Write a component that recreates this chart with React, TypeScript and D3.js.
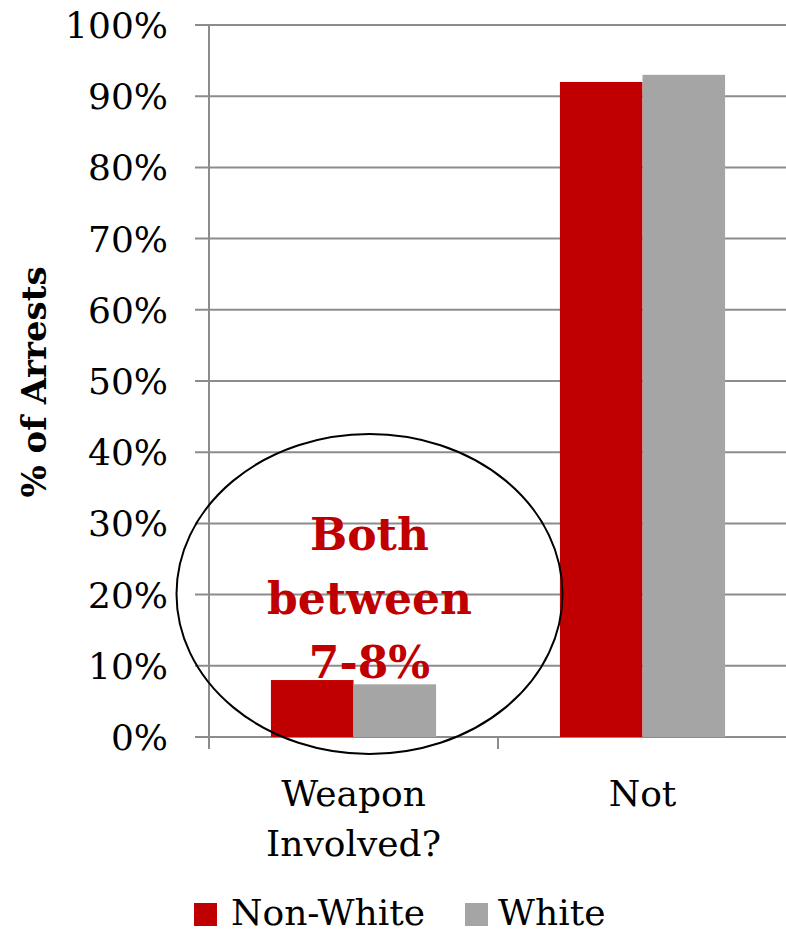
import React from "react";
import * as d3 from "d3";

// Share of arrests by whether a weapon was involved, split by race
const categories = ["Weapon Involved?", "Not"];
const categoryLines = [["Weapon", "Involved?"], ["Not"]];
const seriesNames = ["Non-White", "White"];
const seriesColors = ["#C00000", "#A5A5A5"];
const nonWhite = [0.08, 0.92];
const white = [0.074, 0.93];
const yTicks = [0, 0.1, 0.2, 0.3, 0.4, 0.5, 0.6, 0.7, 0.8, 0.9, 1.0];
const noteLines = ["Both", "between", "7-8%"];

const W = 786;
const H = 932;
const left = 209;
const right = 787;
const top = 25;
const bottom = 737;

export default function App() {
  const y = d3.scaleLinear().domain([0, 1]).range([bottom, top]);
  const x = d3.scaleBand<string>().domain(categories).range([left, right]).padding(0);
  const xs = d3
    .scaleBand<string>()
    .domain(seriesNames)
    .range([0, x.bandwidth()])
    .paddingInner(0)
    .paddingOuter(0.75);
  const fmt = d3.format(".0%");
  const values = [nonWhite, white];
  const serif = "'DejaVu Serif', serif";
  const gridColor = "#8C8C8C";

  const firstCenter = (x(categories[0]) ?? 0) + x.bandwidth() / 2;

  return (
    <svg
      width={W}
      height={H}
      style={{ position: "absolute", left: 0, top: 0, background: "#fff" }}
      fontFamily={serif}
    >
      {/* gridlines and y tick labels */}
      {yTicks.map((t) => (
        <g key={t}>
          <line x1={195} x2={W} y1={y(t)} y2={y(t)} stroke={gridColor} strokeWidth={2} />
          <text x={168} y={y(t) + 13} textAnchor="end" fontSize={36} fill="#000">
            {fmt(t)}
          </text>
        </g>
      ))}
      {/* y axis */}
      <line x1={left} x2={left} y1={top} y2={bottom + 12} stroke={gridColor} strokeWidth={2} />
      {/* category ticks */}
      {[...categories.map((c) => x(c) ?? 0), right].map((px, i) => (
        <line key={i} x1={px} x2={px} y1={bottom} y2={bottom + 12} stroke={gridColor} strokeWidth={2} />
      ))}

      {/* bars */}
      {categories.map((c, ci) =>
        seriesNames.map((s, si) => {
          const bx = (x(c) ?? 0) + (xs(s) ?? 0);
          const v = values[si][ci];
          return (
            <rect
              key={c + s}
              x={bx}
              y={y(v)}
              width={xs.bandwidth()}
              height={y(0) - y(v)}
              fill={seriesColors[si]}
            />
          );
        })
      )}

      {/* category labels */}
      {categories.map((c, ci) => {
        const cx = (x(c) ?? 0) + x.bandwidth() / 2;
        return (
          <text key={c} x={cx} y={806} textAnchor="middle" fontSize={36} fill="#000">
            {categoryLines[ci].map((ln, li) => (
              <tspan key={li} x={cx} y={806 + li * 50}>
                {ln}
              </tspan>
            ))}
          </text>
        );
      })}

      {/* y axis title */}
      <text
        transform={`translate(46, 382) rotate(-90)`}
        textAnchor="middle"
        fontSize={34}
        fontWeight="bold"
        fill="#000"
      >
        % of Arrests
      </text>

      {/* callout */}
      <ellipse cx={firstCenter + 16} cy={594} rx={193} ry={160} fill="none" stroke="#000" strokeWidth={2} />
      {noteLines.map((ln, i) => (
        <text
          key={ln}
          x={firstCenter + 16}
          y={550 + i * 64}
          textAnchor="middle"
          fontSize={44}
          fontWeight="bold"
          fill="#C00000"
        >
          {ln}
        </text>
      ))}

      {/* legend */}
      <rect x={194} y={903} width={23} height={23} fill={seriesColors[0]} />
      <text x={231} y={925} fontSize={36} fill="#000">
        {seriesNames[0]}
      </text>
      <rect x={465} y={903} width={23} height={23} fill={seriesColors[1]} />
      <text x={498} y={925} fontSize={36} fill="#000">
        {seriesNames[1]}
      </text>
    </svg>
  );
}
